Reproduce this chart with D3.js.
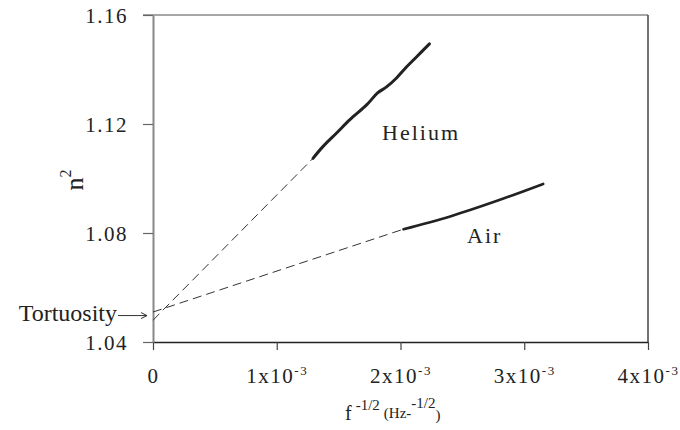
<!DOCTYPE html>
<html>
<head>
<meta charset="utf-8">
<script src="https://cdn.jsdelivr.net/npm/d3@7"></script>
<style>
  body { margin: 0; background: #fff; }
  svg { display: block; }
  svg text { font-family: "Liberation Serif", "Times New Roman", serif; }
</style>
</head>
<body>
<div id="chart"></div>
<script>
// x values in units of 1e-3 Hz^-1/2 are stored as real numbers
const xTicks = [0, 1e-3, 2e-3, 3e-3, 4e-3];
const xTickLabels = ["0", "1x10", "2x10", "3x10", "4x10"];
const xTickExp = "-3";
const yTicks = [1.04, 1.08, 1.12, 1.16];

const heliumX = [1.293e-3, 1.371e-3, 1.484e-3, 1.589e-3, 1.726e-3, 1.815e-3, 1.887e-3, 1.968e-3, 2.048e-3, 2.129e-3, 2.234e-3];
const heliumY = [1.1074, 1.1116, 1.1167, 1.1215, 1.1270, 1.1314, 1.1336, 1.1369, 1.1409, 1.1446, 1.1494];
const airX = [2.024e-3, 2.395e-3, 2.798e-3, 3.153e-3];
const airY = [1.0814, 1.0860, 1.0921, 1.0980];

// extrapolated intercepts at f^-1/2 = 0
const heliumIntercept = 1.048;
const airIntercept = 1.051;
const tortuosity = 1.0497;

const W = 680, H = 430;
const svg = d3.select("#chart").append("svg").attr("width", W).attr("height", H);

const x = d3.scaleLinear().domain([0, 4e-3]).range([153, 648]);
const y = d3.scaleLinear().domain([1.04, 1.16]).range([342, 15]);

// frame: top and right
svg.append("line")
  .attr("x1", x(0) - 10).attr("x2", x(4e-3))
  .attr("y1", y(1.16)).attr("y2", y(1.16))
  .attr("stroke", "#888").attr("stroke-width", 1.5);
svg.append("line")
  .attr("x1", x(4e-3)).attr("x2", x(4e-3))
  .attr("y1", y(1.16)).attr("y2", y(1.04))
  .attr("stroke", "#444").attr("stroke-width", 1.5);

const xAxis = d3.axisBottom(x).tickValues(xTicks).tickSize(8).tickSizeOuter(0).tickFormat("");
const gx = svg.append("g")
  .attr("transform", "translate(0," + y(1.04) + ")")
  .call(xAxis);
gx.select(".domain").attr("stroke", "#222").attr("stroke-width", 1.5);
gx.selectAll(".tick line").attr("stroke", "#444").attr("stroke-width", 1.2);
gx.selectAll(".tick").each(function (d, i) {
  const t = d3.select(this).append("text")
    .attr("y", 41)
    .attr("fill", "#222")
    .attr("text-anchor", "middle")
    .style("font-size", "21px")
    .style("letter-spacing", "1.5px");
  t.append("tspan").text(xTickLabels[i]);
  if (i > 0) {
    t.append("tspan").attr("dy", -8).style("font-size", "13px").text(xTickExp);
  }
});

const yAxis = d3.axisLeft(y).tickValues(yTicks).tickSize(10).tickSizeOuter(0).tickPadding(15)
  .tickFormat(d3.format(".2f"));
const gy = svg.append("g")
  .attr("transform", "translate(" + x(0) + ",0)")
  .call(yAxis);
gy.select(".domain").attr("stroke", "#888").attr("stroke-width", 2);
gy.selectAll(".tick line").attr("stroke", "#666").attr("stroke-width", 1.2);
gy.selectAll(".tick text")
  .attr("fill", "#222")
  .attr("dy", "0.34em")
  .style("font-size", "21px")
  .style("letter-spacing", "1.5px");

// dashed extrapolations
svg.append("line")
  .attr("x1", x(0)).attr("y1", y(heliumIntercept))
  .attr("x2", x(heliumX[0])).attr("y2", y(heliumY[0]))
  .attr("stroke", "#333").attr("stroke-width", 1)
  .attr("stroke-dasharray", "9,5");
svg.append("line")
  .attr("x1", x(0)).attr("y1", y(airIntercept))
  .attr("x2", x(airX[0])).attr("y2", y(airY[0]))
  .attr("stroke", "#333").attr("stroke-width", 1)
  .attr("stroke-dasharray", "9,5");

const line = d3.line().x(d => x(d[0])).y(d => y(d[1])).curve(d3.curveCatmullRom);

svg.append("path")
  .datum(d3.zip(heliumX, heliumY))
  .attr("d", line)
  .attr("fill", "none")
  .attr("stroke", "#222")
  .attr("stroke-width", 3)
  .attr("stroke-linecap", "round");

svg.append("path")
  .datum(d3.zip(airX, airY))
  .attr("d", line)
  .attr("fill", "none")
  .attr("stroke", "#222")
  .attr("stroke-width", 2.6)
  .attr("stroke-linecap", "round");

// labels
svg.append("text")
  .attr("x", 382).attr("y", 140)
  .attr("fill", "#222")
  .style("font-size", "22px")
  .style("letter-spacing", "2px")
  .text("Helium");

svg.append("text")
  .attr("x", 467).attr("y", 243)
  .attr("fill", "#222")
  .style("font-size", "22px")
  .style("letter-spacing", "2px")
  .text("Air");

// tortuosity arrow
const ty = y(tortuosity);
svg.append("text")
  .attr("x", 117).attr("y", ty + 5)
  .attr("text-anchor", "end")
  .attr("fill", "#222")
  .style("font-size", "24px")
  .text("Tortuosity");
svg.append("line")
  .attr("x1", 118).attr("x2", x(0) - 6)
  .attr("y1", ty).attr("y2", ty)
  .attr("stroke", "#333").attr("stroke-width", 1);
svg.append("path")
  .attr("d", "M" + (x(0) - 12) + "," + (ty - 3) + " L" + (x(0) - 6) + "," + ty + " L" + (x(0) - 12) + "," + (ty + 3))
  .attr("fill", "none").attr("stroke", "#333").attr("stroke-width", 1);

// axis titles
const xt = svg.append("text")
  .attr("x", 345).attr("y", 420)
  .attr("fill", "#222");
xt.append("tspan").style("font-size", "20px").text("f");
xt.append("tspan").attr("dx", 4).attr("dy", -10).style("font-size", "15px").text("-1/2");
xt.append("tspan").attr("dx", 4).attr("dy", 8).style("font-size", "15px").text("(Hz-");
xt.append("tspan").attr("dy", -10).style("font-size", "15px").text("-1/2");
xt.append("tspan").attr("dy", 12).style("font-size", "15px").text(")");

const yt = svg.append("text")
  .attr("transform", "translate(83,180) rotate(-90)")
  .attr("text-anchor", "middle")
  .attr("fill", "#222");
yt.append("tspan").style("font-size", "26px").text("n");
yt.append("tspan").attr("dy", -12).style("font-size", "16px").text("2");
</script>
</body>
</html>
